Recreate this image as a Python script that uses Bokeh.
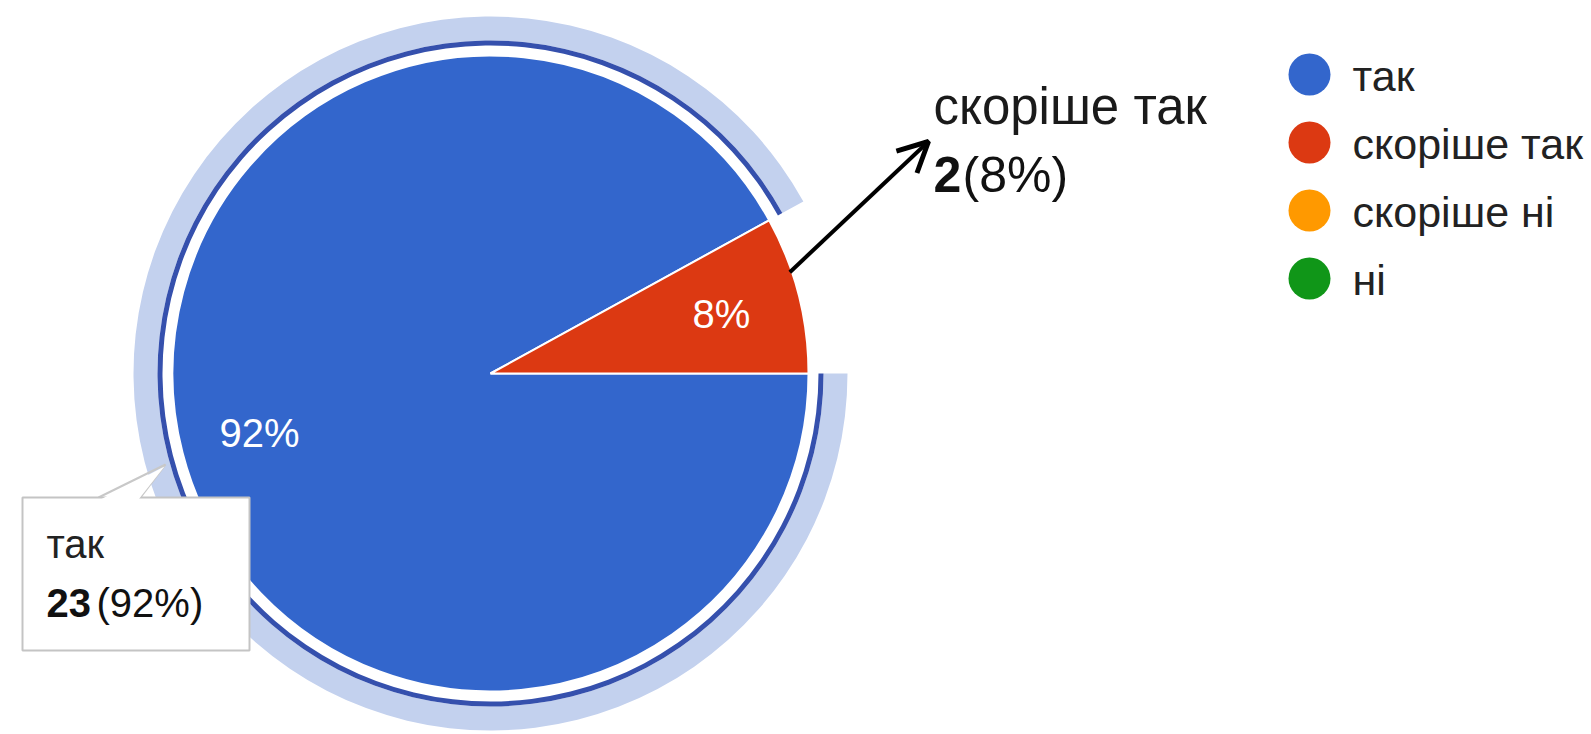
import math
from bokeh.plotting import figure
from bokeh.models import Range1d, ColumnDataSource, Arrow, OpenHead
from bokeh.core.properties import value
from bokeh.embed import file_html
from bokeh.resources import INLINE

# ---- data ----
categories = ["так", "скоріше так", "скоріше ні", "ні"]
counts = [23, 2, 0, 0]
colors = ["#3366cc", "#dc3912", "#ff9900", "#109618"]
highlight_index = 0      # slice shown with hover halo + tooltip
callout_index = 1        # slice with the arrow callout

total = sum(counts)
pcts = [round(100 * c / total) for c in counts]

# ---- layout (page pixel coordinates, y measured from top) ----
W, H = 1591, 734
FONT = value("Liberation Sans")
CX, CY, R = 490, 373, 318

def Y(ypix):
    return H - ypix

p = figure(width=W, height=H, output_backend="svg", toolbar_location=None,
           x_range=Range1d(0, W), y_range=Range1d(0, H),
           min_border=0, outline_line_color=None, background_fill_color="white",
           border_fill_color="white")
p.axis.visible = False
p.grid.visible = False

# slice angles: start at 3 o'clock, go clockwise
starts, ends = [], []
acc = 0.0
for c in counts:
    a0 = -acc
    acc += 2 * math.pi * c / total
    starts.append(a0)
    ends.append(-acc)

nz = [i for i, c in enumerate(counts) if c > 0]
src = ColumnDataSource(dict(
    x=[CX] * len(nz), y=[Y(CY)] * len(nz),
    start=[starts[i] for i in nz], end=[ends[i] for i in nz],
    color=[colors[i] for i in nz]))

# hover halo around highlighted slice
hs, he = starts[highlight_index], ends[highlight_index]
p.annular_wedge(x=CX, y=Y(CY), inner_radius=R + 15, outer_radius=R + 39,
                start_angle=hs, end_angle=he, direction="clock",
                fill_color="#c3d1ee", line_color=None)
p.annular_wedge(x=CX, y=Y(CY), inner_radius=R + 10, outer_radius=R + 15,
                start_angle=hs, end_angle=he, direction="clock",
                fill_color="#3550ad", line_color=None)

p.wedge(x="x", y="y", radius=R, start_angle="start", end_angle="end",
        direction="clock", fill_color="color", line_color="white", line_width=2,
        source=src)

# percentage labels inside slices
lx, ly, lt = [], [], []
for i in nz:
    mid = (starts[i] + ends[i]) / 2
    lx.append(CX + 0.75 * R * math.cos(mid))
    ly.append(Y(CY) + 0.75 * R * math.sin(mid))
    lt.append(f"{pcts[i]}%")
p.text(x=lx, y=ly, text=lt, text_color="white", text_font=FONT,
       text_font_size="40px", text_align="center", text_baseline="middle")

# callout arrow + label for small slice
cm = (starts[callout_index] + ends[callout_index]) / 2
ax0 = CX + (R - 2) * math.cos(cm + 0.075)
ay0 = Y(CY) + (R - 2) * math.sin(cm + 0.075)
p.add_layout(Arrow(x_start=ax0, y_start=ay0, x_end=928, y_end=Y(141),
                   line_color="black", line_width=4,
                   end=OpenHead(size=30, line_width=5, line_color="black")))
p.text(x=[933], y=[Y(106)], text=[categories[callout_index]], text_font=FONT,
       text_font_size="51px", text_color="#1a1a1a", text_baseline="middle")
p.text(x=[933], y=[Y(174)], text=[str(counts[callout_index])], text_font=FONT,
       text_font_size="50px", text_font_style="bold", text_color="#111111",
       text_baseline="middle")
p.text(x=[962], y=[Y(174)], text=[f"({pcts[callout_index]}%)"], text_font=FONT,
       text_font_size="50px", text_color="#111111", text_baseline="middle")

# tooltip for highlighted slice
p.multi_line(xs=[[98, 165], [165, 140]], ys=[[Y(497), Y(464)], [Y(464), Y(497)]],
             line_color="#c8c8c8", line_width=2)
p.quad(left=[22], right=[249], top=[Y(497)], bottom=[Y(650)],
       fill_color="white", line_color="#c4c4c4", line_width=2)
p.patch(x=[100, 164, 138], y=[Y(499), Y(466), Y(499)], fill_color="white",
        line_color=None)
p.text(x=[46], y=[Y(543)], text=[categories[highlight_index]], text_font=FONT,
       text_font_size="40px", text_color="#222222", text_baseline="middle")
p.text(x=[46], y=[Y(602)], text=[str(counts[highlight_index])], text_font=FONT,
       text_font_size="40px", text_font_style="bold", text_color="#111111",
       text_baseline="middle")
p.text(x=[96], y=[Y(602)], text=[f"({pcts[highlight_index]}%)"], text_font=FONT,
       text_font_size="40px", text_color="#111111", text_baseline="middle")

# legend
leg_y = [Y(74 + 68 * i) for i in range(len(categories))]
p.scatter(x=[1309] * len(categories), y=leg_y, size=42, marker="circle",
          fill_color=colors, line_color=None)
p.text(x=[1352] * len(categories), y=[v - 1 for v in leg_y], text=categories,
       text_font=FONT, text_font_size="43px", text_color="#222222",
       text_baseline="middle")

open("out.html", "w").write(file_html(p, INLINE))
